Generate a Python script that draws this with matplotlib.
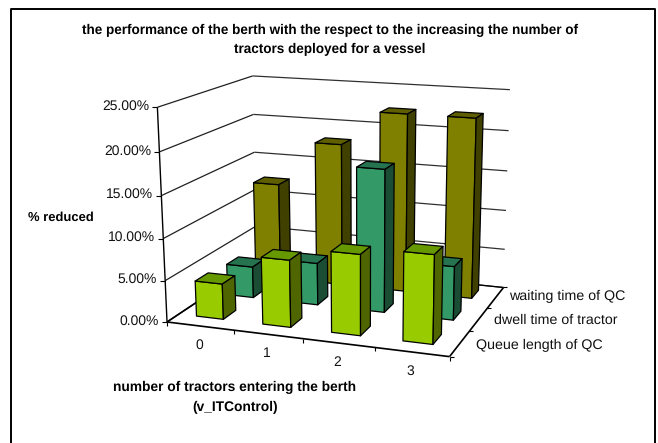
import numpy as np
import matplotlib
matplotlib.use('Agg')
import matplotlib.pyplot as plt
from matplotlib.patches import Polygon

plt.rcParams['font.family'] = ['Liberation Sans', 'DejaVu Sans']
plt.rcParams['text.hinting'] = 'no_hinting'

# ------------------------------ Data ----------------------------------
tractors = ['0', '1', '2', '3']
series_names = ['Queue length of QC', 'dwell time of tractor', 'waiting time of QC']
queue_length = [4.3, 8.0, 9.5, 10.3]
dwell_time = [3.9, 5.2, 17.3, 6.5]
waiting_time = [12.3, 18.0, 22.3, 22.3]
y_ticks = [0, 5, 10, 15, 20, 25]

title_lines = ['the performance of the berth with the respect to the increasing the number of',
               'tractors deployed for a vessel']
xlabel_lines = ['number of tractors entering the berth', '(v_ITControl)']

# front, top, side colours per series
colors = [('#99CC00', '#669900', '#4F6600'),
          ('#339966', '#267350', '#1A4D33'),
          ('#808000', '#5F5F00', '#404000')]

# ------------------------- Perspective camera -------------------------
# corners of the plot box: (category, depth, percent) -> pixel
box_3d = [(0, 0, 0), (4, 0, 0), (4, 3, 0), (0, 3, 0), (0, 0, 25), (0, 3, 25), (4, 3, 25)]
box_px = [(166, 320), (450, 358), (503, 286), (258, 264), (158, 108), (252, 75), (510, 90)]

A, b = [], []
for (X, Y, Z), (u, v) in zip(box_3d, box_px):
    A.append([X, Y, Z, 1, 0, 0, 0, 0, -u * X, -u * Y, -u * Z])
    A.append([0, 0, 0, 0, X, Y, Z, 1, -v * X, -v * Y, -v * Z])
    b += [u, v]
cam = np.linalg.lstsq(np.array(A, float), np.array(b, float), rcond=None)[0]
cam = np.append(cam, 1.0).reshape(3, 4)


def proj(x, y, z):
    p = cam @ np.array([x, y, z, 1.0])
    return p[0] / p[2], p[1] / p[2]


# ------------------------------ Figure --------------------------------
fig = plt.figure(figsize=(6.58, 4.43), dpi=100)
ax = fig.add_axes([0, 0, 1, 1])
ax.set_xlim(0, 658)
ax.set_ylim(443, 0)
ax.axis('off')

# outer frame, open at the bottom
ax.plot([11, 11, 655, 655], [443, 9, 9, 443], color='black', lw=1.4, zorder=1)


def line(p, q, lw=1.0, color='black'):
    ax.plot([p[0], q[0]], [p[1], q[1]], color=color, lw=lw, zorder=2,
            solid_capstyle='butt')


# walls and gridlines
for t in y_ticks:
    line(proj(0, 0, t), proj(0, 3, t), color='#202020', lw=0.9)
    line(proj(0, 3, t), proj(4, 3, t), color='#303030', lw=0.9)
    px, py = proj(0, 0, t)
    line((px - 5, py), (px, py), lw=0.8)
    ax.text(px - 8, py - 1, f'{t:.2f}%', ha='right', va='center', fontsize=10,
            color='#111111', zorder=5)

# floor and axes
line(proj(0, 0, 0), proj(0, 0, 25))
line(proj(0, 0, 0), proj(4, 0, 0), lw=1.2)
line(proj(4, 0, 0), proj(4, 3, 0), lw=1.2)
line(proj(4, 3, 0), proj(0, 3, 0), lw=0.9)
line(proj(0, 3, 0), proj(0, 0, 0), lw=1.2)
for i in range(5):
    px, py = proj(i, 0, 0)
    line((px, py), (px, py + 4), lw=0.8)
for j in range(4):
    px, py = proj(4, j, 0)
    line((px, py), (px + 4, py), lw=0.8)

# bars, back row first so nearer ones overlap
bar_w = 0.41
bar_d = 0.40
rows = [queue_length, dwell_time, waiting_time]
for j in [2, 1, 0]:
    front, top, side = colors[j]
    for i, val in enumerate(rows[j]):
        x0, x1 = i + 0.475 - bar_w / 2, i + 0.475 + bar_w / 2
        y0, y1 = j + 0.55 - bar_d / 2, j + 0.55 + bar_d / 2
        faces = [
            ([(x0, y0, 0), (x1, y0, 0), (x1, y0, val), (x0, y0, val)], front),
            ([(x0, y0, val), (x1, y0, val), (x1, y1, val), (x0, y1, val)], top),
            ([(x1, y0, 0), (x1, y1, 0), (x1, y1, val), (x1, y0, val)], side),
        ]
        z = 10 + (3 - j) * 10 + i
        for pts, col in faces:
            ax.add_patch(Polygon([proj(*p) for p in pts], closed=True, facecolor=col,
                                 edgecolor='black', lw=0.9, joinstyle='round', zorder=z))

# labels
for i, name in enumerate(tractors):
    px, py = proj(i + 0.5, 0, 0)
    ax.text(px - 1, py + 19, name, ha='center', va='center', fontsize=10, color='#111111')
row_dx = [16, 15, 13]
row_dy = [2, 1, -1]
for j, name in enumerate(series_names):
    px, py = proj(4, j + 0.5, 0)
    ax.text(px + row_dx[j], py + row_dy[j], name, ha='left', va='center', fontsize=10.3,
            color='#111111')

for txt, y in zip(title_lines, [30, 49]):
    ax.text(330, y, txt, ha='center', va='center', fontsize=9.75, fontweight='bold')
ax.text(61, 218, '% reduced', ha='center', va='center', fontsize=9.4, fontweight='bold')
for txt, y in zip(xlabel_lines, [387, 407]):
    ax.text(235, y, txt, ha='center', va='center', fontsize=9.9, fontweight='bold')

fig.savefig('out.png', dpi=100)
